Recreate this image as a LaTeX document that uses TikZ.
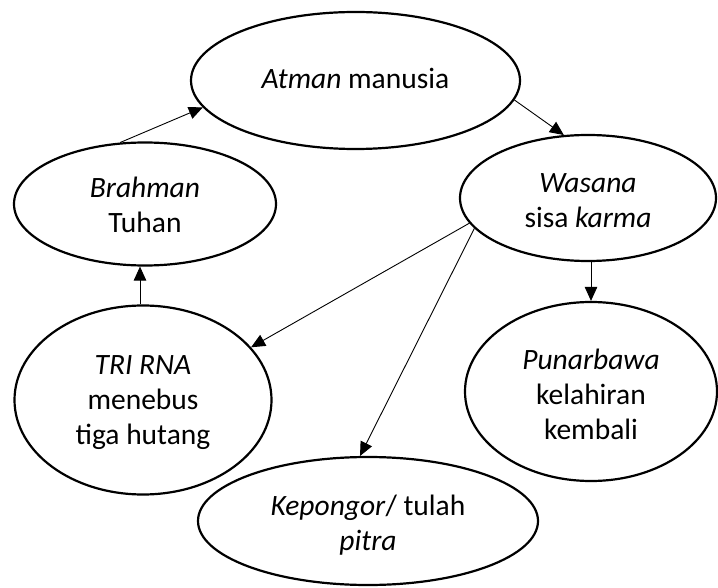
\documentclass[tikz,border=0pt]{standalone}
\usepackage{fontspec}
\setmainfont{Carlito}
\usetikzlibrary{shapes.geometric,arrows.meta}
\tikzset{
  bubble/.style={ellipse, draw, line width=2.2pt, inner sep=0pt, align=center,
    font=\fontsize{29.5}{35}\selectfont, text depth=0pt},
  arr/.style={line width=0.9pt, -{Triangle[length=14pt,width=12.5pt]}},
}
\begin{document}
\begin{tikzpicture}[x=1pt,y=-1pt]
\useasboundingbox (0,0) rectangle (718,588);
\node[bubble, minimum width=329pt, minimum height=137pt, text height=17pt] (atman) at (355.5,80.5) {\textit{Atman} manusia};
\node[bubble, minimum width=262pt, minimum height=123pt, text height=58pt] (brahman) at (145,204) {\textit{Brahman}\\Tuhan};
\node[bubble, minimum width=256pt, minimum height=126pt, text height=60pt] (wasana) at (588,198) {\textit{Wasana}\\sisa \textit{karma}};
\node[bubble, minimum width=257pt, minimum height=189pt, text height=88pt] (tri) at (143,400) {\textit{TRI RNA}\\menebus\\tiga hutang};
\node[bubble, minimum width=252pt, minimum height=179pt, text height=95pt] (punar) at (591,391.5) {\textit{Punarbawa}\\kelahiran\\kembali};
\node[bubble, minimum width=340pt, minimum height=128pt, text height=58pt] (kep) at (368,521) {\textit{Kepongor}/ tulah\\\textit{pitra}};
\draw[arr] (brahman.112) -- (atman.190);
\draw[arr] (atman.-7) -- (wasana.111);
\draw[arr] (punar.north |- wasana.south) -- (punar.north);
\draw[arr] (tri.north -| 140,0) -- (brahman.south -| 140,0);
\draw[arr] (wasana.192) -- (tri.26);
\draw[arr] (wasana.195) -- (kep.97);
\end{tikzpicture}
\end{document}
